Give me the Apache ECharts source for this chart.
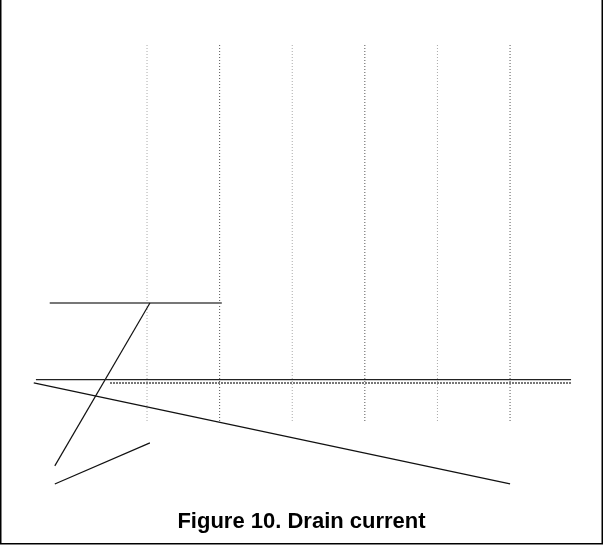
<!DOCTYPE html>
<html>
<head>
<meta charset="utf-8">
<script src="https://cdn.jsdelivr.net/npm/echarts@6/dist/echarts.min.js"></script>
<style>html,body{margin:0;padding:0;background:#fff;}#c{width:603px;height:546px;}</style>
</head>
<body>
<div id="c"></div>
<script>
// Grid columns (x positions of dotted verticals)
var gridColumns = [1, 2, 3, 4, 5, 6];
var gridYRange = [0, 10];
// Line segments, [x, y] in chart units
var upperPlateau = [[-0.34, 3.13], [2.03, 3.13]];
var steepRise = [[1.04, 3.13], [-0.27, -1.19]];
var levelLineTop = [[-0.53, 1.10], [6.84, 1.10]];
var levelLineLow = [[0.49, 1.01], [6.84, 1.01]];
var longSlope = [[-0.56, 1.01], [6.0, -1.67]];
var shortSlope = [[-0.27, -1.67], [1.04, -0.58]];
var titleText = 'Figure 10. Drain current';

var chart = echarts.init(document.getElementById('c'), null, {renderer: 'canvas'});
var series = [];
gridColumns.forEach(function (x, i) {
  series.push({
    type: 'line', data: [[x, gridYRange[0]], [x, gridYRange[1]]],
    symbol: 'none', silent: true, clip: false,
    lineStyle: {color: i % 2 === 0 ? '#aaaaaa' : '#555555', width: 1, type: [1, 2]}
  });
});
function seg(d, color, width, type) {
  series.push({type: 'line', data: d, symbol: 'none', silent: true, clip: false,
    lineStyle: {color: color, width: width, type: type || 'solid'}});
}
seg(upperPlateau, '#777777', 2);
seg(steepRise, '#111111', 1.2);
seg(levelLineTop, '#222222', 1.2);
seg(levelLineLow, '#777777', 2, [2, 1]);
seg(longSlope, '#111111', 1.2);
seg(shortSlope, '#111111', 1.2);

chart.setOption({
  animation: false,
  backgroundColor: '#fff',
  title: {
    text: titleText, left: 'center', top: 506,
    textStyle: {fontFamily: 'Liberation Sans, Arial, sans-serif', fontWeight: 'bold', fontSize: 22, color: '#000'}
  },
  grid: {left: 1.8, right: 0, top: 44, bottom: 49.6},
  xAxis: {type: 'value', min: -1, max: 7.28, show: false},
  yAxis: {type: 'value', min: -2, max: 10, show: false},
  series: series,
  graphic: [{
    type: 'polyline', silent: true,
    shape: {points: [[0.75, 0], [0.75, 543.75], [602.25, 543.75], [602.25, 0]]},
    style: {stroke: '#000', lineWidth: 1.5, fill: null}
  }]
});
</script>
</body>
</html>
